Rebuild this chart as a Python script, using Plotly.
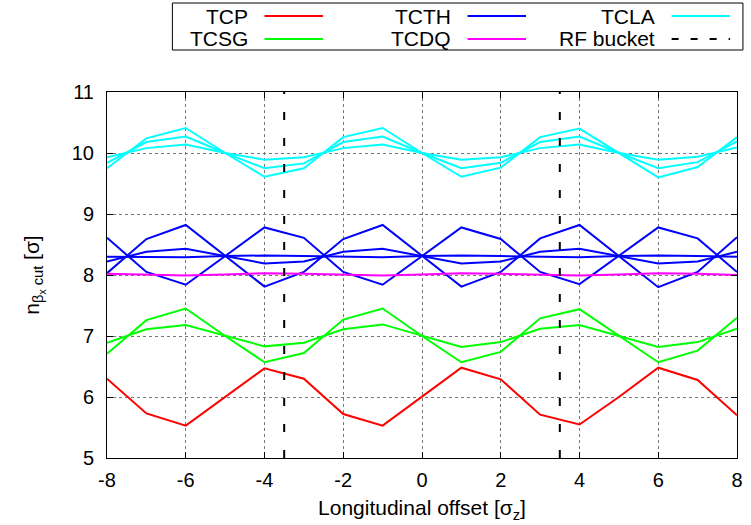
import plotly.graph_objects as go

# Longitudinal offset in units of sigma_z
offset = [-8, -7, -6, -5, -4, -3, -2, -1, 0, 1, 2, 3, 4, 5, 6, 7, 8]

# Normalised cut [sigma] per collimator family
tcp = [6.30, 5.73, 5.53, 6.00, 6.47, 6.30, 5.72, 5.53, 6.00, 6.48, 6.29, 5.71, 5.55, 6.00, 6.48, 6.28, 5.70]

tcsg_a = [6.71, 7.26, 7.45, 7.00, 6.57, 6.72, 7.27, 7.45, 7.00, 6.57, 6.74, 7.29, 7.44, 7.00, 6.57, 6.76, 7.30]
tcsg_b = [6.89, 7.11, 7.18, 7.00, 6.83, 6.89, 7.11, 7.19, 7.00, 6.82, 6.90, 7.12, 7.18, 7.00, 6.82, 6.90, 7.12]

tcth_a = [8.61, 8.05, 7.84, 8.31, 8.78, 8.61, 8.05, 7.84, 8.31, 8.78, 8.59, 8.05, 7.85, 8.31, 8.78, 8.60, 8.05]
tcth_b = [8.03, 8.59, 8.82, 8.31, 7.81, 8.05, 8.59, 8.82, 8.31, 7.81, 8.05, 8.60, 8.82, 8.31, 7.80, 8.05, 8.62]
tcth_c = [8.22, 8.38, 8.43, 8.31, 8.19, 8.22, 8.38, 8.43, 8.31, 8.19, 8.22, 8.38, 8.43, 8.31, 8.19, 8.22, 8.38]
tcth_d = [8.30, 8.30, 8.29, 8.31, 8.32, 8.31, 8.30, 8.29, 8.31, 8.32, 8.31, 8.30, 8.29, 8.31, 8.32, 8.31, 8.30]

tcdq = [8.02, 8.00, 7.99, 8.01, 8.03, 8.02, 8.00, 7.99, 8.01, 8.03, 8.02, 8.00, 7.99, 8.01, 8.03, 8.02, 8.00]

tcla_a = [9.75, 10.24, 10.41, 10.00, 9.61, 9.75, 10.26, 10.41, 10.00, 9.61, 9.76, 10.26, 10.40, 10.00, 9.60, 9.77, 10.26]
tcla_b = [9.84, 10.18, 10.27, 10.00, 9.75, 9.83, 10.18, 10.27, 10.00, 9.75, 9.84, 10.18, 10.27, 10.00, 9.75, 9.85, 10.19]
tcla_c = [9.93, 10.08, 10.14, 10.00, 9.89, 9.93, 10.08, 10.14, 10.00, 9.89, 9.93, 10.08, 10.14, 10.00, 9.89, 9.94, 10.09]

# RF bucket edges
rf_bucket = [-3.5, 3.5]
y_range = [5, 11]

x_ticks = [-8, -6, -4, -2, 0, 2, 4, 6, 8]
y_ticks = [5, 6, 7, 8, 9, 10, 11]

FONT = "Liberation Sans, Arial, sans-serif"
FS_TICK = 20
FS_TITLE = 21
FS_KEY = 21
W, H = 751, 525
L, R, T, B = 107, 8, 92, 67

fig = go.Figure()

series = [
    (tcp, "red"),
    (tcsg_a, "#00ff00"), (tcsg_b, "#00ff00"),
    (tcth_a, "blue"), (tcth_b, "blue"), (tcth_c, "blue"), (tcth_d, "blue"),
    (tcla_a, "cyan"), (tcla_b, "cyan"), (tcla_c, "cyan"),
    (tcdq, "magenta"),
]
for ys, col in series:
    fig.add_trace(go.Scatter(x=offset, y=ys, mode="lines",
                             line=dict(color=col, width=2), showlegend=False))

for xb in rf_bucket:
    fig.add_trace(go.Scatter(x=[xb, xb], y=y_range, mode="lines",
                             line=dict(color="black", width=2, dash="8px,18px"),
                             showlegend=False))

# Legend box drawn in pixel space, converted to paper coordinates
pw = W - L - R
ph = H - T - B


def px(xp):
    return (xp - L) / pw


def py(yp):
    return (H - B - yp) / ph


shapes = [dict(type="rect", xref="paper", yref="paper",
               x0=px(173), x1=px(749), y0=py(50), y1=py(3),
               line=dict(color="black", width=1), fillcolor="white")]
annotations = []

entries = [
    ("TCP", "red", "solid", 0, 0),
    ("TCSG", "#00ff00", "solid", 0, 1),
    ("TCTH", "blue", "solid", 1, 0),
    ("TCDQ", "magenta", "solid", 1, 1),
    ("TCLA", "cyan", "solid", 2, 0),
    ("RF bucket", "black", "dash", 2, 1),
]
col_text_right = [251, 456, 662]
col_line = [(266, 325), (471, 530), (677, 736)]
row_y = [16, 39]
for name, col, style, c, r in entries:
    annotations.append(dict(x=px(col_text_right[c]), y=py(row_y[r]),
                            xref="paper", yref="paper", text=name,
                            showarrow=False, xanchor="right", yanchor="middle",
                            font=dict(family=FONT, size=FS_KEY, color="black")))
    x0, x1 = col_line[c]
    shapes.append(dict(type="line", xref="paper", yref="paper",
                       x0=px(x0), x1=px(x1), y0=py(row_y[r]), y1=py(row_y[r]),
                       line=dict(color=col, width=2,
                                 dash="7px,12px" if style == "dash" else "solid")))

axis_common = dict(
    showline=True, linecolor="black", linewidth=1, mirror="allticks",
    ticks="inside", ticklen=6, tickcolor="black", tickwidth=1,
    showgrid=True, gridcolor="#777777", gridwidth=1, griddash="dot",
    zeroline=False,
    tickfont=dict(family=FONT, size=FS_TICK, color="black"),
)

fig.update_layout(
    width=W, height=H,
    margin=dict(l=L, r=R, t=T, b=B),
    paper_bgcolor="white", plot_bgcolor="white",
    font=dict(family=FONT, size=FS_TICK, color="black"),
    shapes=shapes, annotations=annotations,
    xaxis=dict(range=[-8, 8], tickvals=x_ticks, ticktext=[str(v) for v in x_ticks],
               ticklabelstandoff=4,
               title=dict(text="Longitudinal offset [σ<sub>z</sub>]",
                          font=dict(family=FONT, size=FS_TITLE), standoff=10),
               **axis_common),
    yaxis=dict(range=y_range, tickvals=y_ticks, ticktext=[str(v) for v in y_ticks],
               ticklabelstandoff=8,
               title=dict(text="n<sub>β<sub>x</sub> cut</sub> [σ]",
                          font=dict(family=FONT, size=FS_TITLE), standoff=26),
               **axis_common),
)

fig.write_html("out.html")
